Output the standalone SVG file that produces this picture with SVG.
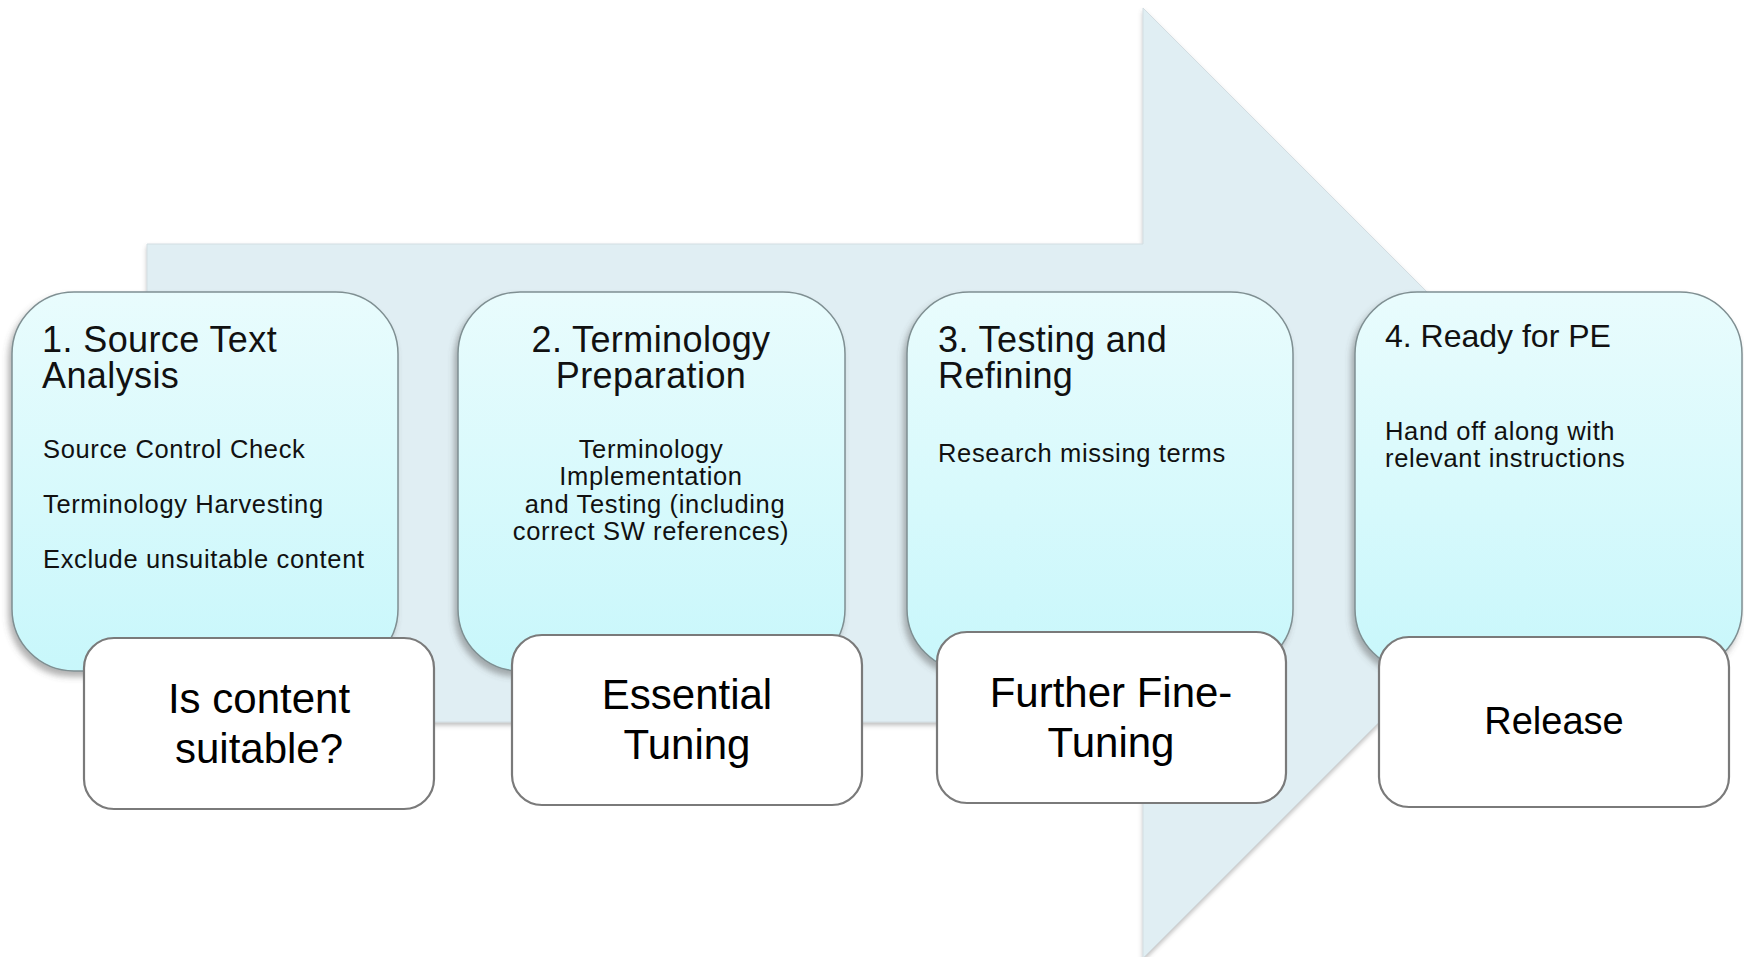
<svg xmlns="http://www.w3.org/2000/svg" width="1744" height="957" viewBox="0 0 1744 957">
  <defs>
    <linearGradient id="cyanGrad" x1="0" y1="0" x2="0" y2="1">
      <stop offset="0" stop-color="#e9fcfd"/>
      <stop offset="1" stop-color="#c8f7fb"/>
    </linearGradient>
    <filter id="shadow" x="-10%" y="-10%" width="120%" height="125%">
      <feDropShadow dx="-3" dy="5" stdDeviation="3" flood-color="#555" flood-opacity="0.45"/>
    </filter>
    <filter id="arrowShadow" x="-5%" y="-5%" width="110%" height="110%">
      <feDropShadow dx="0" dy="3" stdDeviation="2" flood-color="#666" flood-opacity="0.4"/>
    </filter>
  </defs>
  <style>
    .stage { fill: url(#cyanGrad); stroke: #7f8f92; stroke-width: 1.5; filter: url(#shadow); }
    .gate { fill: #ffffff; stroke: #7a7a7a; stroke-width: 2.2; }
    .title { font-family: "Liberation Sans", Arial, sans-serif; font-size: 36px; letter-spacing: 0.4px; fill: #111; }
    .body { font-family: "Liberation Sans", Arial, sans-serif; font-size: 25.5px; letter-spacing: 0.65px; fill: #111; }
    .gateText { font-family: "Liberation Sans", Arial, sans-serif; font-size: 42px; fill: #000; text-anchor: middle; }
    .mid { text-anchor: middle; }
  </style>
  <rect width="1744" height="957" fill="#ffffff"/>

  <g id="connectors">
    <path id="process-arrow" d="M147 244 H1143 V8 L1618 483 L1143 958 V722 H147 Z" fill="#e0eef3" stroke="#d2dde2" stroke-width="1" filter="url(#arrowShadow)"/>
  </g>

  <g id="stage1">
    <rect class="stage" x="12" y="292" width="386" height="379" rx="62" ry="62"/>
    <text class="title" x="42" y="352">1. Source Text</text>
    <text class="title" x="42" y="388">Analysis</text>
    <text class="body" x="43" y="458">Source Control Check</text>
    <text class="body" x="43" y="513">Terminology Harvesting</text>
    <text class="body" x="43" y="568">Exclude unsuitable content</text>
  </g>

  <g id="stage2">
    <rect class="stage" x="458" y="292" width="387" height="379" rx="62" ry="62"/>
    <text class="title mid" x="651" y="352">2. Terminology</text>
    <text class="title mid" x="651" y="388">Preparation</text>
    <text class="body mid" x="651" y="458">Terminology</text>
    <text class="body mid" x="651" y="485">Implementation</text>
    <text class="body mid" x="655" y="513">and Testing (including</text>
    <text class="body mid" x="651" y="540">correct SW references)</text>
  </g>

  <g id="stage3">
    <rect class="stage" x="907" y="292" width="386" height="379" rx="62" ry="62"/>
    <text class="title" x="938" y="352">3. Testing and</text>
    <text class="title" x="938" y="388">Refining</text>
    <text class="body" x="938" y="462">Research missing terms</text>
  </g>

  <g id="stage4">
    <rect class="stage" x="1355" y="292" width="387" height="379" rx="62" ry="62"/>
    <text class="title" x="1385" y="347" style="font-size:32px;letter-spacing:0">4. Ready for PE</text>
    <text class="body" x="1385" y="440">Hand off along with</text>
    <text class="body" x="1385" y="467">relevant instructions</text>
  </g>

  <g id="gate1">
    <rect class="gate" x="84" y="638" width="350" height="171" rx="30" ry="30"/>
    <text class="gateText" x="259" y="713">Is content</text>
    <text class="gateText" x="259" y="763">suitable?</text>
  </g>

  <g id="gate2">
    <rect class="gate" x="512" y="635" width="350" height="170" rx="30" ry="30"/>
    <text class="gateText" x="687" y="709">Essential</text>
    <text class="gateText" x="687" y="759">Tuning</text>
  </g>

  <g id="gate3">
    <rect class="gate" x="937" y="632" width="349" height="171" rx="30" ry="30"/>
    <text class="gateText" x="1111" y="707">Further Fine-</text>
    <text class="gateText" x="1111" y="757">Tuning</text>
  </g>

  <g id="gate4">
    <rect class="gate" x="1379" y="637" width="350" height="170" rx="30" ry="30"/>
    <text class="gateText" x="1554" y="734" style="font-size:38px">Release</text>
  </g>
</svg>
